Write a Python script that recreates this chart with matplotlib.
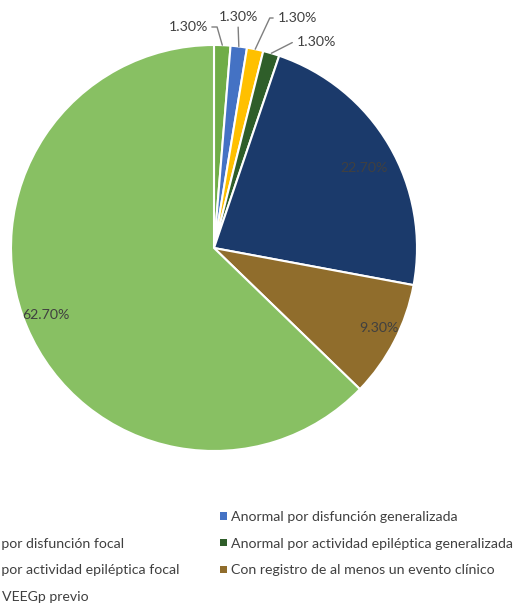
import numpy as np
import matplotlib
matplotlib.use("Agg")
import matplotlib.pyplot as plt
from matplotlib.patches import Patch

plt.rcParams['font.family'] = ['Lato', 'DejaVu Sans']

# pie data, in Excel order (clockwise from 12 o'clock)
categories = ["Normal",
              "Anormal por disfunción generalizada",
              "Anormal por disfunción focal",
              "Anormal por actividad epiléptica generalizada",
              "Anormal por actividad epiléptica focal",
              "Con registro de al menos un evento clínico",
              "No tenía VEEGp previo"]
values = [1.3, 1.3, 1.3, 1.3, 22.7, 9.3, 62.7]
colors = ["#70AD47", "#4472C4", "#FFC000", "#2F5E2A",
          "#1B3A6B", "#906D2C", "#88C063"]

text_col = "#404040"
W, H = 514, 605
fs = 10.2

fig = plt.figure(figsize=(W / 100, H / 100), dpi=100)
ax = fig.add_axes([0, 0, 1, 1])

cx, cy, R = 214, 357, 203
wedges, _ = ax.pie(values, colors=colors, startangle=90, counterclock=False,
                   center=(cx, cy), radius=R, frame=True,
                   wedgeprops=dict(edgecolor="white", linewidth=1.5))
ax.set_xlim(0, W)
ax.set_ylim(0, H)
ax.set_aspect('equal')
ax.axis('off')

# outside labels for the small slices: (text offset from centre, relpos, angleB)
small_lab = [((-26, 221), (1, 0.5), 106),
             ((24, 231), (0.5, 0), None),
             ((83, 230), (0, 0.5), 65),
             ((102, 206), (0, 0.5), 27)]
# inside labels for the big slices: (radius fraction, angle nudge in degrees)
big_lab = [(0.84, -2.2), (0.90, 1.5), (0.89, -1.3)]

k = j = 0
for w, v in zip(wedges, values):
    lab = f"{v:.2f}%"
    if v < 5:
        mid = np.deg2rad((w.theta1 + w.theta2) / 2)
        (ox, oy), rp, angB = small_lab[k]
        k += 1
        xy = (cx + R * np.cos(mid), cy + R * np.sin(mid))
        if angB is None:
            cs = "arc3"
        else:
            cs = f"angle,angleA=0,angleB={angB},rad=0"
        ax.annotate(lab, xy=xy, xytext=(cx + ox, cy + oy), ha="center", va="center",
                    fontsize=fs, color=text_col,
                    arrowprops=dict(arrowstyle="-", color="#7F7F7F", lw=1,
                                    relpos=rp, connectionstyle=cs,
                                    shrinkA=1, shrinkB=0))
    else:
        fr, nudge = big_lab[j]
        j += 1
        mid = np.deg2rad((w.theta1 + w.theta2) / 2 + nudge)
        ax.text(cx + fr * R * np.cos(mid), cy + fr * R * np.sin(mid), lab,
                ha="center", va="center", fontsize=fs, color=text_col)

# legend, filled row by row like Excel: two columns, the left one runs off the edge
handles = [Patch(facecolor=c, edgecolor="none") for c in colors]
leg_kw = dict(frameon=False, loc="upper left", fontsize=fs,
              handlelength=0.5, handleheight=0.4, handletextpad=0.3,
              labelspacing=1.04, borderpad=0, borderaxespad=0,
              labelcolor=text_col)
left_idx = [0, 2, 4, 6]
right_idx = [1, 3, 5]
leg_r = fig.legend([handles[i] for i in right_idx], [categories[i] for i in right_idx],
                   bbox_to_anchor=(0.4, 0.2), **leg_kw)
leg_l = fig.legend([handles[i] for i in left_idx], [categories[i] for i in left_idx],
                   bbox_to_anchor=(0.0, 0.2), **leg_kw)

fig.canvas.draw()
r = fig.canvas.get_renderer()
row1_y = H - 517    # centre of the first legend row, in pixels from the bottom

t = leg_r.get_texts()[0].get_window_extent(r)
lb = leg_r.get_window_extent(r)
dx = 231 - t.x0
dy = row1_y - (t.y0 + t.y1) / 2
leg_r.set_bbox_to_anchor(((lb.x0 + dx) / W, (lb.y1 + dy) / H))

# left column: the word "Anormal " is cut off by the figure edge
tmp = fig.text(0, 0, "Anormal ", fontsize=fs)
w_cut = tmp.get_window_extent(r).width
tmp.remove()
t = leg_l.get_texts()[1].get_window_extent(r)
t0 = leg_l.get_texts()[0].get_window_extent(r)
lb = leg_l.get_window_extent(r)
dx = 1 - w_cut - t.x0
dy = row1_y - (t0.y0 + t0.y1) / 2
leg_l.set_bbox_to_anchor(((lb.x0 + dx) / W, (lb.y1 + dy) / H))

fig.savefig("out.png", dpi=100)
